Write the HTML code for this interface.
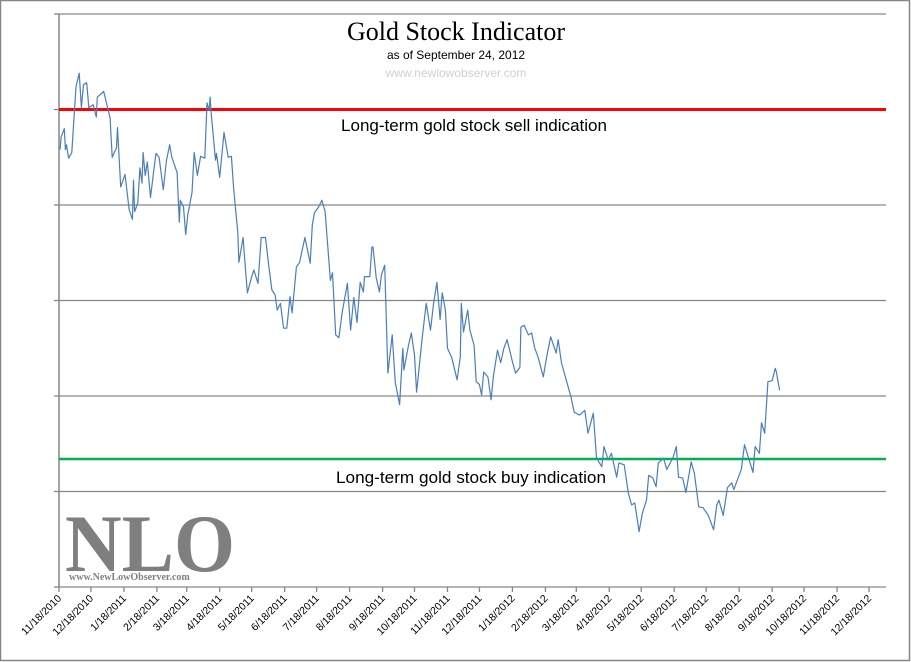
<!DOCTYPE html>
<html><head><meta charset="utf-8"><style>
html,body{margin:0;padding:0;background:#fff;}
svg{display:block;}
</style></head><body>
<svg id="chart" width="911" height="662" viewBox="0 0 911 662" xmlns="http://www.w3.org/2000/svg">
<rect x="0.5" y="0.5" width="909" height="660" fill="#fff" stroke="#868686" stroke-width="1.5"/>
<g id="grid"></g>
<g id="xaxis"></g>
<line x1="59" y1="14" x2="59" y2="587" stroke="#868686" stroke-width="1.5"/>
<text x="456" y="40" text-anchor="middle" font-family="Liberation Serif, serif" font-size="26">Gold Stock Indicator</text>
<text x="456" y="59" text-anchor="middle" font-family="Liberation Sans, sans-serif" font-size="12">as of September 24, 2012</text>
<text x="456" y="77" text-anchor="middle" font-family="Liberation Sans, sans-serif" font-size="12" fill="#d0d0d0">www.newlowobserver.com</text>
<g id="refs"></g>
<text x="474" y="131" text-anchor="middle" font-family="Liberation Sans, sans-serif" font-size="16.5" textLength="266" lengthAdjust="spacingAndGlyphs">Long-term gold stock sell indication</text>
<text x="471" y="483" text-anchor="middle" font-family="Liberation Sans, sans-serif" font-size="16.5" textLength="270" lengthAdjust="spacingAndGlyphs">Long-term gold stock buy indication</text>
<text x="65" y="571" font-family="Liberation Serif, serif" font-size="82" font-weight="bold" fill="#7f7f7f" textLength="170" lengthAdjust="spacingAndGlyphs">NLO</text>
<text x="69" y="580" font-family="Liberation Serif, serif" font-size="10" font-weight="bold" fill="#808080">www.NewLowObserver.com</text>
<path id="series" fill="none" stroke="#4a7ebb" stroke-width="1.2" stroke-linejoin="round"/>
</svg>
<script>
// days since 11/18/2010
const days = [1,2,5,6,7,9,12,16,19,21,23,26,28,32,35,36,42,48,50,54,55,58,62,66,69,70,71,74,76,78,79,81,83,86,91,94,98,101,104,106,111,113,114,117,119,121,125,127,130,133,137,139,141,142,143,147,148,151,155,159,162,164,168,169,173,175,177,181,183,187,190,194,197,200,203,205,208,211,214,217,219,223,226,231,236,238,240,244,247,250,255,257,260,263,266,271,274,277,280,283,286,287,292,294,295,298,301,303,306,309,313,316,320,323,324,328,331,334,336,341,345,349,352,355,358,360,363,365,369,374,377,378,380,384,386,390,392,395,397,399,403,406,408,412,415,418,421,426,429,433,434,437,441,444,447,450,455,458,462,467,469,472,477,481,484,489,494,497,502,505,510,512,516,519,524,526,531,535,538,541,545,548,552,554,558,561,563,568,571,577,580,582,586,589,594,597,601,605,610,615,618,620,624,628,632,634,639,641,644,647,652,654,658,660,663,666,670,673,674,677];
const values = [4.58,4.71,4.80,4.58,4.63,4.49,4.55,5.24,5.38,5.02,5.26,5.28,5.02,5.05,4.92,5.13,5.19,4.91,4.50,4.60,4.81,4.19,4.32,3.95,3.85,4.26,3.93,4.02,4.39,4.23,4.55,4.31,4.45,4.08,4.54,4.50,4.16,4.47,4.63,4.50,4.34,3.82,4.05,3.98,3.69,3.90,4.13,4.55,4.31,4.51,4.49,5.07,4.99,5.13,4.96,4.47,4.54,4.29,4.76,4.50,4.51,4.18,3.71,3.40,3.66,3.35,3.08,3.25,3.32,3.18,3.66,3.66,3.37,3.11,3.06,2.90,2.97,2.71,2.71,3.04,2.87,3.35,3.40,3.66,3.39,3.79,3.92,3.98,4.05,3.93,3.21,3.29,2.64,2.61,2.87,3.18,2.69,3.03,2.77,3.19,3.09,3.25,3.25,3.56,3.56,3.24,3.09,3.27,3.37,2.24,2.64,2.14,1.91,2.50,2.27,2.51,2.66,2.43,2.04,2.59,2.97,2.69,2.98,3.19,2.80,3.08,2.90,2.50,2.40,2.17,2.41,2.97,2.67,2.90,2.69,2.53,2.15,2.12,2.01,2.25,2.20,1.96,2.20,2.48,2.35,2.50,2.59,2.36,2.24,2.30,2.72,2.74,2.64,2.66,2.50,2.41,2.20,2.40,2.62,2.45,2.59,2.35,2.15,1.99,1.83,1.80,1.85,1.61,1.82,1.35,1.26,1.47,1.33,1.40,1.15,1.30,1.28,0.98,0.86,0.88,0.58,0.77,0.91,1.17,1.14,1.05,1.30,1.35,1.23,1.36,1.47,1.15,1.14,0.99,1.31,1.19,0.84,0.83,0.75,0.60,0.86,0.91,0.75,1.04,1.09,1.02,1.17,1.23,1.49,1.38,1.20,1.47,1.40,1.72,1.61,2.15,2.16,2.29,2.25,2.06];
const gridValues = [0,1,2,3,4,5,6];
const sellLevel = 5.0;
const buyLevel = 1.34;
const tickLabels = ["11/18/2010","12/18/2010","1/18/2011","2/18/2011","3/18/2011","4/18/2011","5/18/2011","6/18/2011","7/18/2011","8/18/2011","9/18/2011","10/18/2011","11/18/2011","12/18/2011","1/18/2012","2/18/2012","3/18/2012","4/18/2012","5/18/2012","6/18/2012","7/18/2012","8/18/2012","9/18/2012","10/18/2012","11/18/2012","12/18/2012"];

const NS = "http://www.w3.org/2000/svg";
const X0 = 59, X1 = 869, Y0 = 587, Y1 = 14, XEND = 886, DMAX = 761, VMAX = 6;
const xScale = d => X0 + d * (X1 - X0) / DMAX;
const yScale = v => Y0 - v * (Y0 - Y1) / VMAX;
const base = Date.UTC(2010, 10, 18);
function dayOf(s){ const p = s.split('/'); return Math.round((Date.UTC(+p[2], +p[0]-1, +p[1]) - base) / 86400000); }
function mk(tag, attrs, parent){ const e = document.createElementNS(NS, tag); for (const k in attrs) e.setAttribute(k, attrs[k]); parent.appendChild(e); return e; }

const grid = document.getElementById('grid');
gridValues.forEach(v => {
  const y = yScale(v);
  if (v > 0) {
    const l = mk('line', {x1: X0, x2: XEND, y1: y, y2: y, stroke: '#868686', 'stroke-width': 1.3}, grid);
    
    
  }
  const t = mk('line', {x1: X0 - 5, x2: X0, y1: y, y2: y, stroke: '#868686', 'stroke-width': 1.3}, grid);
  
  
});

const xa = document.getElementById('xaxis');
const axl = mk('line', {x1: X0, x2: XEND, y1: Y0, y2: Y0, stroke: '#868686', 'stroke-width': 1.3}, xa);


tickLabels.forEach(lbl => {
  const x = xScale(dayOf(lbl));
  const tk = mk('line', {x1: x, x2: x, y1: Y0, y2: Y0 + 5, stroke: '#868686', 'stroke-width': 1.3}, xa);
  
  
  const tx = mk('text', {x: x + 3, y: Y0 + 12, 'text-anchor': 'end', 'font-family': 'Liberation Sans, sans-serif', 'font-size': 10.5, transform: `rotate(-45 ${x + 3} ${Y0 + 12})`}, xa);
  tx.textContent = lbl;
  
  
});

const refs = document.getElementById('refs');
const sl = mk('line', {x1: X0, x2: XEND, y1: yScale(sellLevel), y2: yScale(sellLevel), stroke: '#ff0000', 'stroke-width': 3}, refs);


const bl = mk('line', {x1: X0, x2: XEND, y1: yScale(buyLevel), y2: yScale(buyLevel), stroke: '#00b050', 'stroke-width': 2.5}, refs);



document.getElementById('series').setAttribute('d',
  days.map((d, i) => (i ? 'L' : 'M') + xScale(d).toFixed(1) + ',' + yScale(values[i]).toFixed(1)).join(''));
</script>
</body></html>
